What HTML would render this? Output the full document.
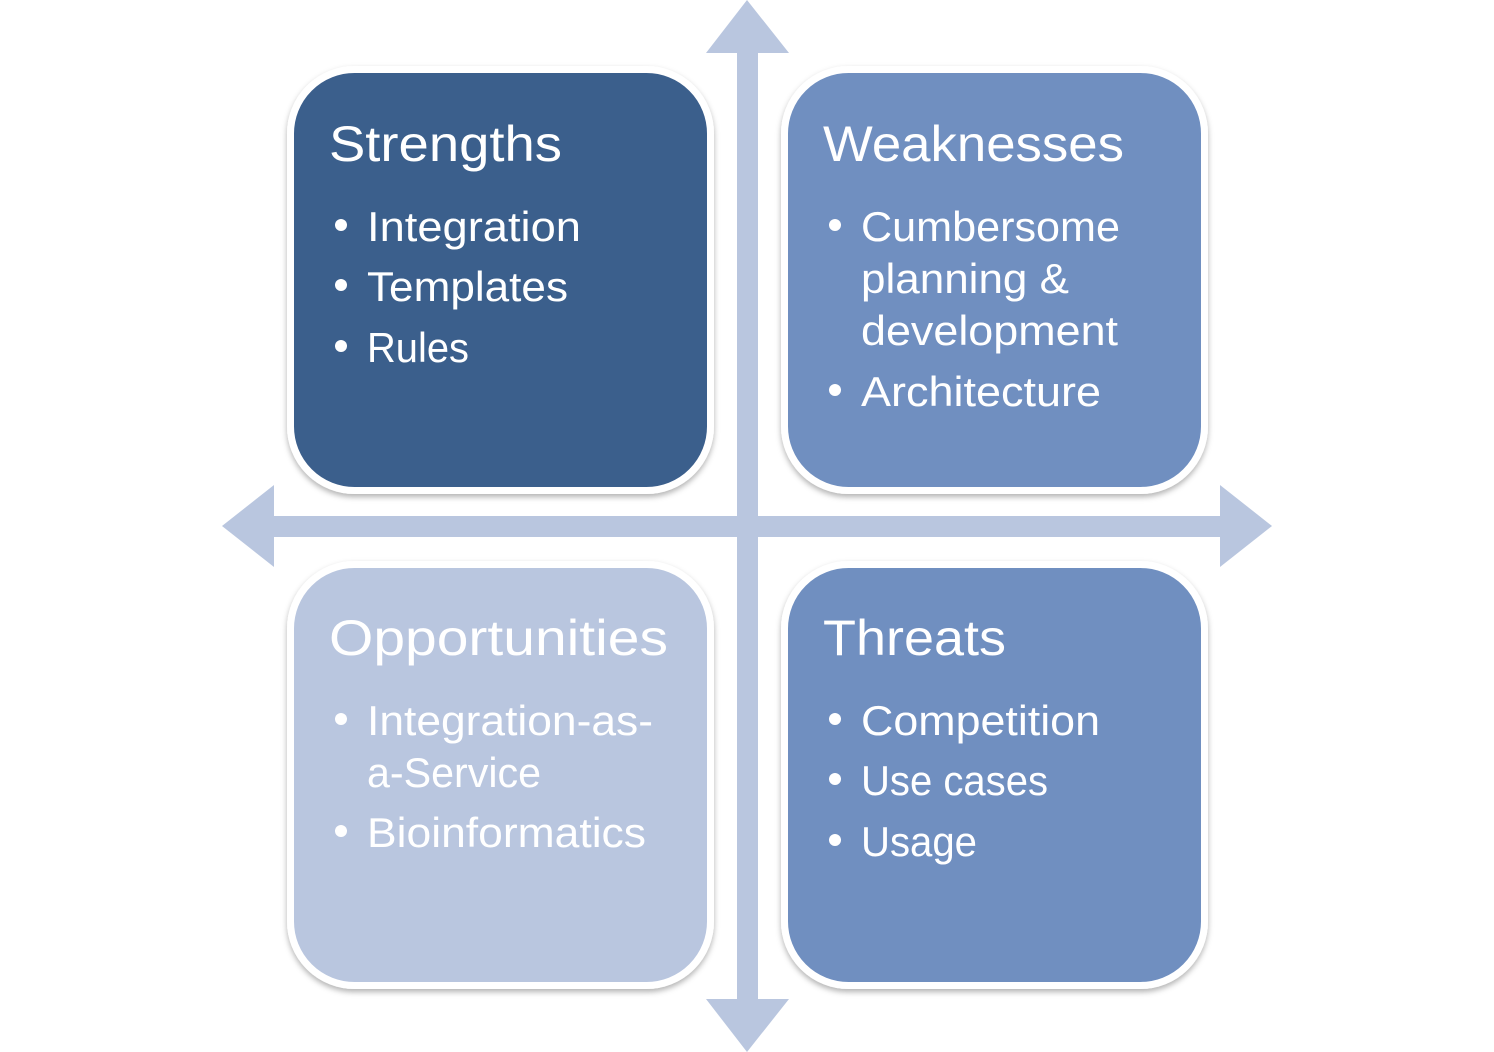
<!DOCTYPE html>
<html><head><meta charset="utf-8"><style>
html,body{margin:0;padding:0;background:#fff;}
svg{display:block;}
text{font-family:"Liberation Sans",sans-serif;fill:#fff;}
.t{font-size:50px;}
.i{font-size:42px;}
</style></head><body>
<svg width="1494" height="1052" viewBox="0 0 1494 1052" xmlns="http://www.w3.org/2000/svg">
<defs>
<filter id="sh" x="-10%" y="-10%" width="120%" height="120%">
<feDropShadow dx="0" dy="3" stdDeviation="3" flood-color="#000" flood-opacity="0.3"/>
</filter>
</defs>
<g fill="#b9c6df">
<rect x="737" y="50" width="21" height="952"/>
<polygon points="747,0 706,53 789,53"/>
<polygon points="747,1052 706,999 789,999"/>
<rect x="272" y="516" width="950" height="21"/>
<polygon points="222,526 274,485 274,567"/>
<polygon points="1272,526 1220,485 1220,567"/>
</g>
<g filter="url(#sh)" stroke="#fff" stroke-width="7">
<rect x="290.5" y="69.5" width="420" height="421" rx="64" fill="#3b5e8c"/>
<rect x="784.5" y="69.5" width="420" height="421" rx="64" fill="#6f8fc0"/>
<rect x="290.5" y="564.5" width="420" height="421" rx="64" fill="#b9c6df"/>
<rect x="784.5" y="564.5" width="420" height="421" rx="64" fill="#6f8fc0"/>
</g>
<g transform="translate(0,-2)">
<g fill="#fff">
<circle cx="341" cy="227" r="6"/><circle cx="341" cy="287" r="6"/><circle cx="341" cy="348" r="6"/>
<circle cx="835" cy="227" r="6"/><circle cx="835" cy="392" r="6"/>
<circle cx="341" cy="721" r="6"/><circle cx="341" cy="833" r="6"/>
<circle cx="835" cy="721" r="6"/><circle cx="835" cy="781" r="6"/><circle cx="835" cy="842" r="6"/>
</g>
<text class="t" x="329" y="163" textLength="233" lengthAdjust="spacingAndGlyphs">Strengths</text>
<text class="i" x="367" y="243" textLength="214" lengthAdjust="spacingAndGlyphs">Integration</text>
<text class="i" x="367" y="303" textLength="201" lengthAdjust="spacingAndGlyphs">Templates</text>
<text class="i" x="367" y="364" textLength="102" lengthAdjust="spacingAndGlyphs">Rules</text>

<text class="t" x="823" y="163" textLength="301" lengthAdjust="spacingAndGlyphs">Weaknesses</text>
<text class="i" x="861" y="243" textLength="259" lengthAdjust="spacingAndGlyphs">Cumbersome</text>
<text class="i" x="861" y="295" textLength="208" lengthAdjust="spacingAndGlyphs">planning &amp;</text>
<text class="i" x="861" y="347" textLength="257" lengthAdjust="spacingAndGlyphs">development</text>
<text class="i" x="861" y="408" textLength="240" lengthAdjust="spacingAndGlyphs">Architecture</text>

<text class="t" x="329" y="657" textLength="339" lengthAdjust="spacingAndGlyphs">Opportunities</text>
<text class="i" x="367" y="737" textLength="286" lengthAdjust="spacingAndGlyphs">Integration-as-</text>
<text class="i" x="367" y="789" textLength="174" lengthAdjust="spacingAndGlyphs">a-Service</text>
<text class="i" x="367" y="849" textLength="279" lengthAdjust="spacingAndGlyphs">Bioinformatics</text>

<text class="t" x="823" y="657" textLength="183" lengthAdjust="spacingAndGlyphs">Threats</text>
<text class="i" x="861" y="737" textLength="239" lengthAdjust="spacingAndGlyphs">Competition</text>
<text class="i" x="861" y="797" textLength="187" lengthAdjust="spacingAndGlyphs">Use cases</text>
<text class="i" x="861" y="858" textLength="116" lengthAdjust="spacingAndGlyphs">Usage</text>
</g>
</svg>
</body></html>
